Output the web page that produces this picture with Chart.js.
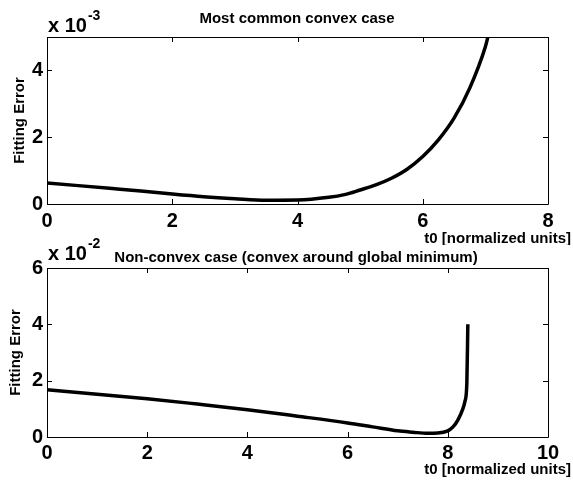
<!DOCTYPE html>
<html>
<head>
<meta charset="utf-8">
<title>Fitting Error vs t0</title>
<script src="https://cdn.jsdelivr.net/npm/chart.js@4.4.1/dist/chart.umd.min.js"></script>
<style>
    html, body { margin: 0; padding: 0; background: #fff; }
    #contenedor { position: relative; width: 573px; height: 481px; }
    #contenedor canvas { position: absolute; left: 0; }
    #grafico-convexo { top: 0; }
    #grafico-no-convexo { top: 225px; }
</style>
</head>
<body>
<div id="contenedor">
    <canvas id="grafico-convexo" width="573" height="245"></canvas>
    <canvas id="grafico-no-convexo" width="573" height="256"></canvas>
</div>
<script>
// Caso convexo: error de ajuste (en unidades de 1e-3) frente a t0
const convexT0 = [0, 0.5, 1, 1.5, 2, 2.5, 3, 3.5, 4, 4.5, 4.75, 5, 5.25, 5.5, 5.75, 6, 6.25, 6.5, 6.75, 7, 7.04];
const convexError = [0.63, 0.55, 0.47, 0.39, 0.30, 0.22, 0.16, 0.115, 0.12, 0.20, 0.28, 0.42, 0.57, 0.77, 1.04, 1.42, 1.92, 2.57, 3.47, 4.71, 5.0];
const convexXTicks = [0, 2, 4, 6, 8];
const convexYTicks = [0, 2, 4];

// Caso no convexo: error de ajuste (en unidades de 1e-2) frente a t0
const noConvexT0 = [0, 1, 2, 3, 4, 5, 6, 6.5, 7, 7.3, 7.6, 7.8, 8.0, 8.1, 8.2, 8.3, 8.34, 8.38, 8.4];
const noConvexError = [1.68, 1.52, 1.36, 1.17, 0.97, 0.74, 0.50, 0.36, 0.22, 0.17, 0.13, 0.14, 0.22, 0.35, 0.60, 1.0, 1.25, 1.9, 4.0];
const noConvexXTicks = [0, 2, 4, 6, 8, 10];
const noConvexYTicks = [0, 2, 4, 6];

const FUENTE = '"Liberation Sans", Arial, Helvetica, sans-serif';

// Plugin: caja de ejes tipo MATLAB con marcas hacia dentro y los textos
const ejesMatlab = {
    id: 'ejesMatlab',
    afterDraw(chart, args, opts) {
        const { ctx, chartArea: a } = chart;
        const x = chart.scales.x;
        const y = chart.scales.y;
        const largo = 5;

        ctx.save();
        ctx.strokeStyle = '#000';
        ctx.lineWidth = 1;
        ctx.beginPath();
        ctx.rect(Math.round(a.left) + 0.5, Math.round(a.top) + 0.5, Math.round(a.width), Math.round(a.height));
        x.ticks.forEach(t => {
            const px = Math.round(x.getPixelForValue(t.value)) + 0.5;
            ctx.moveTo(px, a.bottom); ctx.lineTo(px, a.bottom - largo);
            ctx.moveTo(px, a.top); ctx.lineTo(px, a.top + largo);
        });
        y.ticks.forEach(t => {
            const py = Math.round(y.getPixelForValue(t.value)) + 0.5;
            ctx.moveTo(a.left, py); ctx.lineTo(a.left + largo, py);
            ctx.moveTo(a.right, py); ctx.lineTo(a.right - largo, py);
        });
        ctx.stroke();

        ctx.fillStyle = '#000';
        ctx.textBaseline = 'alphabetic';

        // Título
        ctx.font = 'bold 15px ' + FUENTE;
        ctx.textAlign = 'center';
        ctx.fillText(opts.titulo, opts.tituloX, opts.tituloY);

        // Multiplicador del eje y (x 10^n)
        ctx.font = 'bold 20px ' + FUENTE;
        ctx.textAlign = 'left';
        const base = 'x 10';
        ctx.fillText(base, 48, opts.multY);
        const ancho = ctx.measureText(base).width;
        ctx.font = 'bold 14px ' + FUENTE;
        ctx.fillText(opts.exponente, 48 + ancho + 1, opts.multY - 12);

        // Etiqueta del eje x, alineada a la derecha
        ctx.font = 'bold 15px ' + FUENTE;
        ctx.textAlign = 'right';
        ctx.fillText('t0 [normalized units]', 571, opts.etiquetaXY);

        // Etiqueta del eje y, girada
        ctx.translate(opts.etiquetaYX, (a.top + a.bottom) / 2);
        ctx.rotate(-Math.PI / 2);
        ctx.textAlign = 'center';
        ctx.textBaseline = 'middle';
        ctx.fillText('Fitting Error', 0, 0);
        ctx.restore();
    }
};

// Función para crear cada panel
function crearGrafico(id, xs, ys, xTicks, yTicks, xMax, yMax, cfg) {
    const ctx = document.getElementById(id).getContext('2d');
    const fuenteTicks = { family: FUENTE, size: 20, weight: 'bold' };

    return new Chart(ctx, {
        type: 'line',
        data: {
            datasets: [{
                data: xs.map((t, i) => ({ x: t, y: ys[i] })),
                borderColor: '#000',
                borderWidth: 3.5,
                pointRadius: 0,
                fill: false,
                cubicInterpolationMode: 'monotone',
                borderCapStyle: 'butt',
                borderJoinStyle: 'round'
            }]
        },
        options: {
            responsive: false,
            animation: false,
            layout: { padding: { left: 0, top: cfg.padTop, right: 25, bottom: 0 } },
            plugins: {
                legend: { display: false },
                tooltip: { enabled: false },
                title: { display: false },
                ejesMatlab: cfg
            },
            scales: {
                x: {
                    type: 'linear',
                    min: 0,
                    max: xMax,
                    afterBuildTicks: s => { s.ticks = xTicks.map(v => ({ value: v })); },
                    afterFit: s => { s.height = cfg.altoX; },
                    grid: { display: false, drawTicks: false },
                    border: { display: false },
                    ticks: { color: '#000', font: fuenteTicks, padding: cfg.padX, maxRotation: 0, autoSkip: false }
                },
                y: {
                    type: 'linear',
                    min: 0,
                    max: yMax,
                    afterBuildTicks: s => { s.ticks = yTicks.map(v => ({ value: v })); },
                    afterFit: s => { s.width = 47; },
                    grid: { display: false, drawTicks: false },
                    border: { display: false },
                    ticks: { color: '#000', font: fuenteTicks, padding: 4 }
                }
            }
        },
        plugins: [ejesMatlab]
    });
}

crearGrafico('grafico-convexo', convexT0, convexError, convexXTicks, convexYTicks, 8, 5, {
    padTop: 37, altoX: 41, padX: 5,
    titulo: 'Most common convex case', tituloX: 297, tituloY: 23,
    multY: 32, exponente: '-3',
    etiquetaXY: 243, etiquetaYX: 20
});

crearGrafico('grafico-no-convexo', noConvexT0, noConvexError, noConvexXTicks, noConvexYTicks, 10, 6, {
    padTop: 43, altoX: 44, padX: 4,
    titulo: 'Non-convex case (convex around global minimum)', tituloX: 296, tituloY: 37,
    multY: 35, exponente: '-2',
    etiquetaXY: 249, etiquetaYX: 16
});
</script>
</body>
</html>
